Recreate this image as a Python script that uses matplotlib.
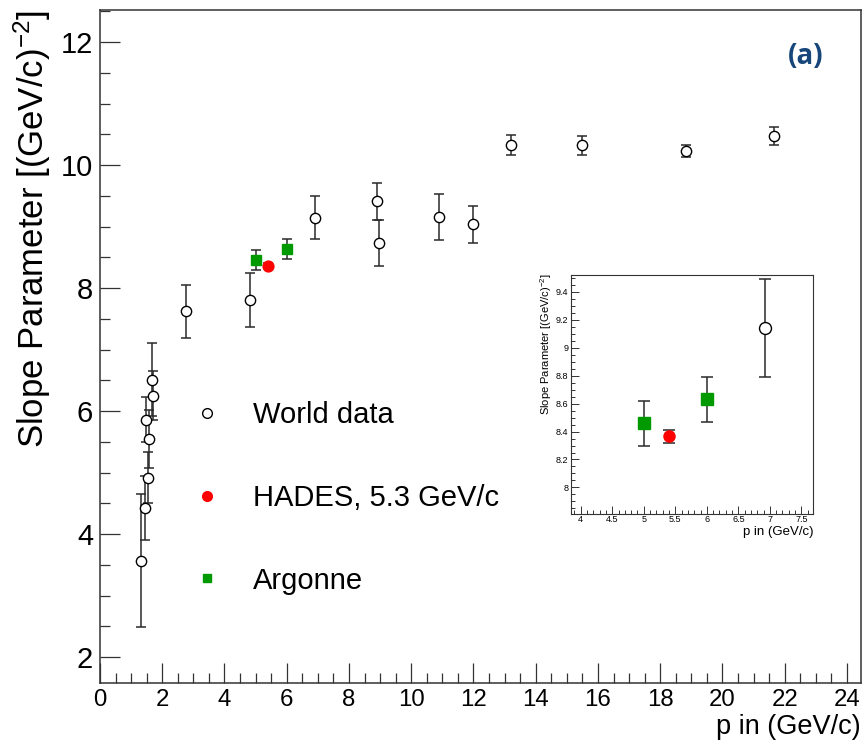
import numpy as np
import matplotlib
matplotlib.use("Agg")
import matplotlib.pyplot as plt
from matplotlib.ticker import MultipleLocator, FormatStrFormatter
from matplotlib.lines import Line2D

plt.rcParams['font.family'] = ['Liberation Sans', 'DejaVu Sans']
plt.rcParams['mathtext.default'] = 'regular'

# ---- data ----
world_p = np.array([1.32, 1.46, 1.53, 1.59, 1.48, 1.71, 1.66, 2.77, 4.81, 6.92,
                    8.91, 8.97, 10.88, 11.98, 13.19, 15.48, 18.84, 21.66])
world_slope = np.array([3.57, 4.43, 4.92, 5.54, 5.86, 6.25, 6.51, 7.62, 7.81, 9.14,
                        9.41, 8.73, 9.15, 9.04, 10.33, 10.32, 10.23, 10.47])
world_err = np.array([1.08, 0.52, 0.42, 0.47, 0.37, 0.40, 0.59, 0.43, 0.44, 0.35,
                      0.30, 0.37, 0.375, 0.30, 0.16, 0.15, 0.10, 0.15])

hades_p = np.array([5.4])
hades_slope = np.array([8.365])
hades_err = np.array([0.045])

argonne_p = np.array([5.0, 6.0])
argonne_slope = np.array([8.46, 8.63])
argonne_err = np.array([0.16, 0.16])

labels = ["World data", "HADES, 5.3 GeV/c", "Argonne"]
ylabel = r"Slope Parameter [(GeV/c)$^{-2}$]"
xlabel = "p in (GeV/c)"

GREEN = "#009a00"
RED = "#ff0000"
ECOL = "#2a2a2a"

W, H = 864, 743
fig = plt.figure(figsize=(W / 100, H / 100), dpi=100)

# main axes
L, R, T, B = 100, 861, 10, 683
ax = fig.add_axes([L / W, 1 - B / H, (R - L) / W, (B - T) / H])


def draw(axis, ms_open, ms_red, ms_sq, cap, elw, mask=None):
    wp, ws, we = world_p, world_slope, world_err
    if mask is not None:
        wp, ws, we = wp[mask], ws[mask], we[mask]
    axis.errorbar(wp, ws, yerr=we, fmt='none', ecolor=ECOL, elinewidth=elw,
                  capsize=cap, capthick=elw, zorder=2)
    axis.plot(wp, ws, 'o', ms=ms_open, mfc='white', mec='black', mew=1.0,
              ls='none', zorder=3)
    axis.errorbar(argonne_p, argonne_slope, yerr=argonne_err, fmt='none',
                  ecolor=ECOL, elinewidth=elw, capsize=cap, capthick=elw, zorder=2)
    axis.plot(argonne_p, argonne_slope, 's', ms=ms_sq, mfc=GREEN, mec=GREEN,
              ls='none', zorder=3)
    axis.errorbar(hades_p, hades_slope, yerr=hades_err, fmt='none',
                  ecolor=ECOL, elinewidth=elw, capsize=cap, capthick=elw, zorder=2)
    axis.plot(hades_p, hades_slope, 'o', ms=ms_red, mfc=RED, mec=RED,
              ls='none', zorder=3)


draw(ax, 7.4, 7.8, 6.6, 3.6, 1.1)

ax.set_xlim(0, 24.45)
ax.set_ylim(1.58, 12.52)
ax.xaxis.set_major_locator(MultipleLocator(2))
ax.xaxis.set_minor_locator(MultipleLocator(0.5))
ax.yaxis.set_major_locator(MultipleLocator(2))
ax.yaxis.set_minor_locator(MultipleLocator(0.5))
ax.tick_params(which='both', direction='in', top=False, right=False,
               width=0.9, color='#333333')
ax.tick_params(which='major', length=14.4)
ax.tick_params(which='minor', length=7.2)
ax.tick_params(axis='x', which='major', labelsize=17.3, pad=4)
ax.tick_params(axis='y', which='major', labelsize=21, pad=5)
for s in ax.spines.values():
    s.set_linewidth(1.1)
    s.set_color('#333333')

ax.set_xlabel(xlabel, fontsize=19.5, loc='right')
ax.xaxis.set_label_coords(1.0, -0.046)
ax.set_ylabel(ylabel, fontsize=25, loc='top')
ax.yaxis.set_label_coords(-0.062, 1.0)

# legend (marker-only entries)
handles = [
    Line2D([], [], marker='o', ls='none', ms=7, mfc='white', mec='black', mew=1.0),
    Line2D([], [], marker='o', ls='none', ms=7, mfc=RED, mec=RED),
    Line2D([], [], marker='s', ls='none', ms=6.3, mfc=GREEN, mec=GREEN),
]
leg = ax.legend(handles, labels, loc='center left',
                bbox_to_anchor=(192.4 / W, 1 - 498 / H), bbox_transform=fig.transFigure,
                frameon=False, fontsize=21, handlelength=1.0, handletextpad=1.07,
                labelspacing=1.87, borderpad=0, borderaxespad=0)

fig.text(806 / W, 1 - 56 / H, "(a)", fontsize=20, fontweight='bold',
         family=['Open Sans', 'DejaVu Sans'], color='#17467a', ha='center', va='center')

# inset
iL, iR, iT, iB = 570.7, 813.3, 275, 514
axi = fig.add_axes([iL / W, 1 - iB / H, (iR - iL) / W, (iB - iT) / H])
mask = (world_p > 4.9) & (world_p < 7.6)
draw(axi, 8.6, 8.0, 8.6, 4.5, 1.1, mask=mask)
axi.set_xlim(3.84, 7.69)
axi.set_ylim(7.81, 9.52)
axi.xaxis.set_major_locator(MultipleLocator(0.5))
axi.xaxis.set_minor_locator(MultipleLocator(0.1))
axi.yaxis.set_major_locator(MultipleLocator(0.2))
axi.yaxis.set_minor_locator(MultipleLocator(0.05))
axi.xaxis.set_major_formatter(FormatStrFormatter('%g'))
axi.yaxis.set_major_formatter(FormatStrFormatter('%g'))
axi.tick_params(which='both', direction='in', top=False, right=False,
                width=0.7, color='#333333', labelsize=6.5)
axi.tick_params(which='major', length=6)
axi.tick_params(which='minor', length=3.2)
axi.tick_params(axis='x', pad=1.0)
axi.tick_params(axis='y', pad=1.5)
for s in axi.spines.values():
    s.set_linewidth(0.8)
    s.set_color('#333333')
axi.set_xlabel(xlabel, fontsize=9.5, loc='right')
axi.xaxis.set_label_coords(1.0, -0.052)
axi.set_ylabel(ylabel, fontsize=8, loc='top')
axi.yaxis.set_label_coords(-0.069, 1.007)

fig.savefig("out.png", dpi=100)
